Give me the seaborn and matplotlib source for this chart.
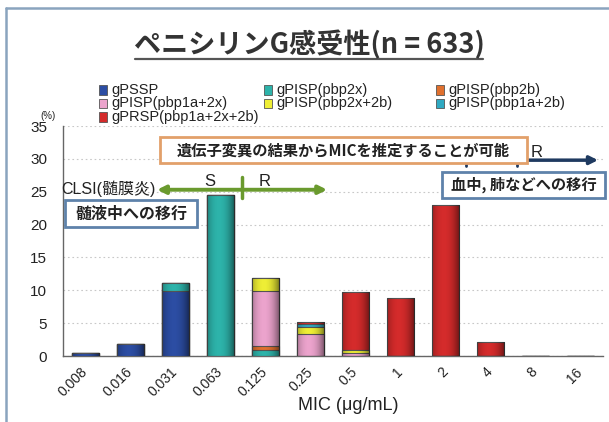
import numpy as np
import pandas as pd
import matplotlib
matplotlib.use("Agg")
import matplotlib.pyplot as plt
import seaborn as sns
from matplotlib.patches import Rectangle
from matplotlib.lines import Line2D

# ---------------- data ----------------
mic_labels = ['0.008', '0.016', '0.031', '0.063', '0.125', '0.25', '0.5', '1', '2', '4', '8', '16']
series_names = ['gPSSP', 'gPISP(pbp2x)', 'gPISP(pbp2b)', 'gPISP(pbp1a+2x)',
                'gPISP(pbp2x+2b)', 'gPISP(pbp1a+2b)', 'gPRSP(pbp1a+2x+2b)']
gPSSP      = [0.4, 1.8, 9.9, 0,    0,   0,   0,   0,   0,    0,   0, 0]
gPISP_2x   = [0,   0,   1.25, 24.5, 0.9, 0,   0,   0,   0,    0,   0, 0]
gPISP_2b   = [0,   0,   0,   0,    0.6, 0,   0,   0,   0,    0,   0, 0]
gPISP_1a2x = [0,   0,   0,   0,    8.4, 3.3, 0.4, 0,   0,    0,   0, 0]
gPISP_2x2b = [0,   0,   0,   0,    2.0, 1.1, 0.5, 0,   0,    0,   0, 0]
gPISP_1a2b = [0,   0,   0,   0,    0,   0.4, 0,   0,   0,    0,   0, 0]
gPRSP      = [0,   0,   0,   0,    0,   0.4, 8.9, 8.9, 23.0, 2.2, 0, 0]
series_values = [gPSSP, gPISP_2x, gPISP_2b, gPISP_1a2x, gPISP_2x2b, gPISP_1a2b, gPRSP]
colors = ['#2C4DA3', '#2DB3AA', '#E0702E', '#EBA3CC', '#EEEE35', '#2FA9C2', '#D42B2B']

# ---------------- figure ----------------
W, H = 609, 422
sns.set_style("white")
plt.rcParams['font.family'] = ['Liberation Sans', 'Noto Sans CJK JP', 'DejaVu Sans']
JP = ['Noto Sans CJK JP', 'DejaVu Sans']

fig = plt.figure(figsize=(W / 100, H / 100), dpi=100)
fig.patch.set_facecolor('white')

def fx(x):
    return x / W

def fy(y):
    return 1 - y / H

ax = fig.add_axes([fx(63), fy(356), 540 / W, 230 / H])

df = pd.DataFrame({name: vals for name, vals in zip(series_names, series_values)}, index=mic_labels)
cum = df.cumsum(axis=1)

# draw cumulative bars from top series down so each lower segment covers the previous one
for k in range(len(series_names) - 1, -1, -1):
    sns.barplot(x=mic_labels, y=cum.iloc[:, k].values, order=mic_labels, color=colors[k],
                saturation=1, width=0.62, edgecolor='#555555', linewidth=0.8, ax=ax, zorder=3)

# cylinder-like shading over each full stacked bar
total_patches = list(ax.patches)[:len(mic_labels)]
shade = np.zeros((1, 64, 4))
xs = np.linspace(-1, 1, 64)
shade[0, :, 3] = 0.38 * np.abs(xs + 0.15) ** 2.2
for p in total_patches:
    if p.get_height() <= 0:
        continue
    x0 = p.get_x()
    im = ax.imshow(shade, extent=[x0, x0 + p.get_width(), 0, p.get_height()],
                   aspect='auto', zorder=3.5, interpolation='bilinear')
    im.set_clip_path(p)

ax.set_xlim(-0.5, 11.5)
ax.set_ylim(0, 35)
ax.set_aspect('auto')
ax.set_yticks(range(0, 36, 5))
ax.yaxis.grid(True, linestyle=(0, (1.5, 2.5)), color='#c8c8c8', linewidth=0.8)
ax.xaxis.grid(False)
ax.set_axisbelow(True)
for s in ['top', 'right']:
    ax.spines[s].set_visible(False)
for s in ['left', 'bottom']:
    ax.spines[s].set_color('#666666')
    ax.spines[s].set_linewidth(1.0)
ax.set_xlabel('')
ax.set_ylabel('')

ax.tick_params(axis='y', direction='inout', length=7, width=1, color='#666666',
               labelcolor='#222222', labelsize=11, pad=8)
ax.set_xticks(range(len(mic_labels)))
ax.set_xticklabels(mic_labels)
ax.tick_params(axis='x', which='major', length=0, labelsize=10, labelcolor='#222222', pad=10)
for lab in ax.get_xticklabels():
    lab.set_rotation(45)
    lab.set_ha('right')
    lab.set_va('center')
    lab.set_rotation_mode('anchor')
ax.set_xticks(np.arange(-0.5, 12, 1), minor=True)
ax.tick_params(axis='x', which='minor', direction='inout', length=8, width=1, color='#666666')

# ---------------- annotations ----------------
# green double arrow (CLSI meningitis breakpoint)
ax.annotate('', xy=(1.59, 25.3), xytext=(5.37, 25.3),
            arrowprops=dict(arrowstyle='<|-|>', color='#6A9A2E', lw=2.8, mutation_scale=12,
                            shrinkA=0, shrinkB=0), zorder=6)
ax.plot([3.48, 3.48], [24.0, 27.3], color='#6A9A2E', lw=2.5, zorder=6)
ax.text(2.77, 26.6, 'S', fontsize=12, ha='center', va='center', color='#222222', zorder=6)
ax.text(3.99, 26.6, 'R', fontsize=12, ha='center', va='center', color='#222222', zorder=6)
ax.text(1.55, 25.4, 'CLSI(髄膜炎)', fontsize=11.5, ha='right', va='center', color='#222222',
        family=['Liberation Sans', 'Noto Sans CJK JP'], zorder=6)

# navy arrow (non-meningitis)
ax.annotate('', xy=(11.39, 29.8), xytext=(8.46, 29.8),
            arrowprops=dict(arrowstyle='-|>', color='#1F3A60', lw=2.5, mutation_scale=12,
                            shrinkA=0, shrinkB=0), zorder=4)
ax.plot([8.46, 8.46], [28.9, 29.8], color='#1F3A60', lw=2, zorder=4)
ax.plot([9.59, 9.59], [28.9, 29.8], color='#1F3A60', lw=2, zorder=4)
ax.text(10.03, 31.0, 'R', fontsize=12, ha='center', va='center', color='#222222', zorder=6)

def box(x0, y0, x1, y1, ec, text, fs, weight='bold'):
    r = Rectangle((fx(x0), fy(y1)), fx(x1) - fx(x0), fy(y0) - fy(y1), transform=fig.transFigure,
                  facecolor='white', edgecolor=ec, linewidth=2.0, zorder=10)
    fig.patches.append(r)
    fig.text(fx((x0 + x1) / 2), fy((y0 + y1) / 2), text, ha='center', va='center', fontsize=fs,
             fontweight=weight, family=JP, color='#222222', zorder=11)

box(160, 137, 527, 163, '#E2A06A', '遺伝子変異の結果からMICを推定することが可能', 11)
box(65, 200, 197, 227, '#5E82AA', '髄液中への移行', 11.5)
box(442, 172, 605, 198, '#5E82AA', '血中, 肺などへの移行', 11)

# ---------------- title, legend, labels ----------------
fig.text(fx(309), fy(45), 'ペニシリンG感受性(n = 633)', ha='center', va='center', fontsize=19.5,
         family=JP, color='#333333', fontweight='bold')
fig.lines.append(Line2D([fx(135), fx(483)], [fy(59), fy(59)], transform=fig.transFigure,
                        color='#555555', lw=1.6))

leg_pos = [(103, 90), (268, 90), (440, 90), (103, 103.5), (268, 103.5), (440, 103.5), (103, 117)]
for (px, py), name, c in zip(leg_pos, series_names, colors):
    fig.patches.append(Rectangle((fx(px - 4), fy(py + 4.5)), 8 / W, 9 / H, transform=fig.transFigure,
                                 facecolor=c, edgecolor='#555555', linewidth=0.6))
    fig.text(fx(px + 8), fy(py), name, ha='left', va='center', fontsize=10.5, color='#222222')

fig.text(fx(48), fy(116), '(%)', ha='center', va='center', fontsize=7, color='#222222')
fig.text(fx(348), fy(405), 'MIC (μg/mL)', ha='center', va='center', fontsize=13, color='#222222')

# slide frame
fig.lines.append(Line2D([fx(6), fx(6)], [fy(8), fy(422)], transform=fig.transFigure,
                        color='#8AA4BE', lw=1.8))
fig.lines.append(Line2D([fx(6), fx(609)], [fy(8), fy(8)], transform=fig.transFigure,
                        color='#8AA4BE', lw=1.8))

fig.savefig('out.png', dpi=100, facecolor='white')
